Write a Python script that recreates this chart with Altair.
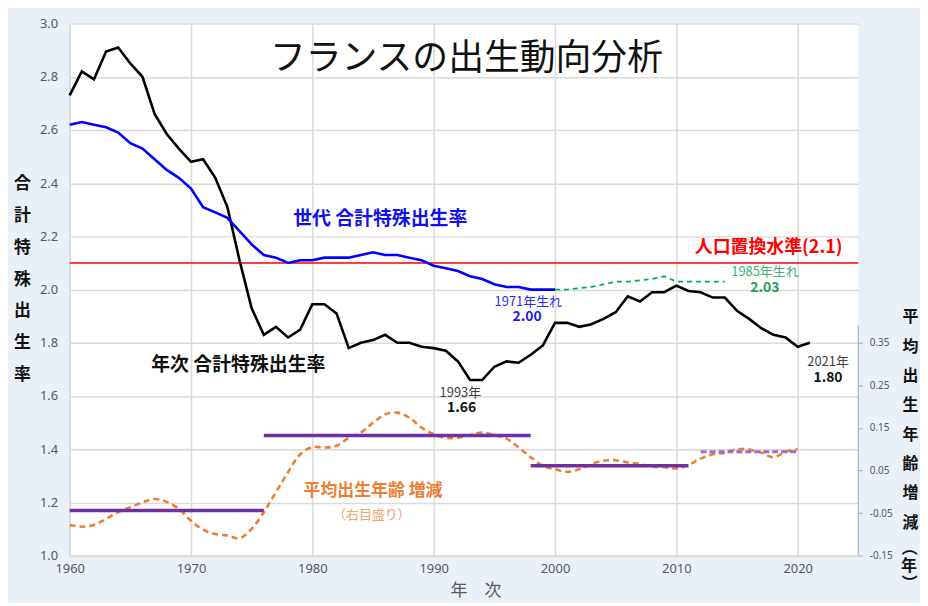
import altair as alt
import pandas as pd

# ---------------- data ----------------
years_period = list(range(1960, 2022))
tfr_period = [2.73, 2.82, 2.79, 2.895, 2.91, 2.85, 2.80, 2.66, 2.585, 2.53,
              2.48, 2.49, 2.42, 2.31, 2.11, 1.93, 1.83, 1.86, 1.82, 1.85,
              1.945, 1.945, 1.91, 1.78, 1.80, 1.81, 1.83, 1.80, 1.80, 1.785,
              1.78, 1.77, 1.73, 1.66, 1.66, 1.71, 1.73, 1.725, 1.755, 1.79,
              1.875, 1.875, 1.86, 1.87, 1.89, 1.915, 1.975, 1.955, 1.99, 1.99,
              2.015, 1.995, 1.99, 1.97, 1.97, 1.92, 1.89, 1.855, 1.83, 1.82,
              1.785, 1.80]

years_cohort = list(range(1960, 2001))
tfr_cohort = [2.62, 2.63, 2.62, 2.61, 2.59, 2.55, 2.53, 2.49, 2.45, 2.42,
              2.38, 2.31, 2.29, 2.27, 2.22, 2.17, 2.13, 2.12, 2.10, 2.11,
              2.11, 2.12, 2.12, 2.12, 2.13, 2.14, 2.13, 2.13, 2.12, 2.11,
              2.09, 2.08, 2.07, 2.05, 2.04, 2.02, 2.01, 2.01, 2.00, 2.00,
              2.00]

years_cohort_proj = list(range(2000, 2015))
tfr_cohort_proj = [2.00, 2.00, 2.005, 2.01, 2.02, 2.03, 2.03, 2.035, 2.04, 2.05,
                   2.03, 2.03, 2.03, 2.03, 2.03]

years_age = list(range(1960, 2021))
age_change = [-0.078, -0.082, -0.078, -0.064, -0.048, -0.036, -0.025, -0.017, -0.024, -0.040,
              -0.068, -0.089, -0.099, -0.103, -0.109, -0.087, -0.048, -0.001, 0.046, 0.088,
              0.105, 0.104, 0.108, 0.127, 0.139, 0.162, 0.182, 0.186, 0.174, 0.151,
              0.135, 0.127, 0.127, 0.133, 0.139, 0.133, 0.125, 0.104, 0.081, 0.061,
              0.053, 0.047, 0.053, 0.065, 0.073, 0.074, 0.069, 0.065, 0.059, 0.058,
              0.055, 0.063, 0.078, 0.088, 0.092, 0.100, 0.099, 0.092, 0.081, 0.094,
              0.100]

period_start = [1960, 1976, 1998]
period_end = [1976, 1998, 2011]
period_mean = [-0.044, 0.132, 0.061]

recent_start = [2012]
recent_end = [2020]
recent_mean = [0.094]

replacement_level = [2.1]

left_ticks = [1.0, 1.2, 1.4, 1.6, 1.8, 2.0, 2.2, 2.4, 2.6, 2.8, 3.0]
right_ticks = [-0.15, -0.05, 0.05, 0.15, 0.25, 0.35]
right_axis_span = [-0.15, 0.39]
x_ticks = [1960, 1970, 1980, 1990, 2000, 2010, 2020]

# annotations (text, year, value, colour, size, bold)
annotations = [
    ("フランスの出生動向分析", 1992.7, 2.867, "#111111", 36, False),
    ("世代 合計特殊出生率", 1985.6, 2.264, "#1010F0", 19, True),
    ("年次 合計特殊出生率", 1973.9, 1.718, "#111111", 19, True),
    ("1971年生れ", 1997.8, 1.953, "#2A2AF0", 13, False),
    ("2.00", 1997.7, 1.895, "#1A1AF0", 14, True),
    ("1985年生れ", 2017.3, 2.065, "#3CB371", 13, False),
    ("2.03", 2017.3, 2.007, "#22A050", 14, True),
    ("1993年", 1992.2, 1.613, "#404040", 13, False),
    ("1.66", 1992.3, 1.553, "#111111", 14, True),
    ("2021年", 2022.5, 1.729, "#404040", 13, False),
    ("1.80", 2022.5, 1.669, "#111111", 14, True),
    ("平均出生年齢 増減", 1985.0, 1.241, "#ED7D31", 17, True),
    ("（右目盛り）", 1984.9, 1.153, "#F2A36E", 13, False),
]
right_note = [("人口置換水準(2.1)", 2023.7, 2.157, "#FF0000", 18, True)]

# ---------------- tables ----------------
df_period = pd.DataFrame({"year": years_period, "value": tfr_period})
df_cohort = pd.DataFrame({"year": years_cohort, "value": tfr_cohort})
df_proj = pd.DataFrame({"year": years_cohort_proj, "value": tfr_cohort_proj})
df_repl = pd.DataFrame({"value": replacement_level})
df_age = pd.DataFrame({"year": years_age, "value": age_change})
df_seg = pd.DataFrame({"year": period_start, "end": period_end, "value": period_mean})
df_recent = pd.DataFrame({"year": recent_start, "end": recent_end, "value": recent_mean})
df_axis = pd.DataFrame({"lo": [right_axis_span[0]], "hi": [right_axis_span[1]], "year": [2025]})
cols = ["text", "year", "value", "color", "size", "bold"]
df_ann = pd.DataFrame(annotations, columns=cols)
df_note = pd.DataFrame(right_note, columns=cols)

# ---------------- scales / axes ----------------
JP = "Noto Sans CJK JP"
GRID = "#DADADA"
LABEL = "#595959"

x_scale = alt.Scale(domain=[1960, 2025], nice=False, zero=False)
x_axis = alt.Axis(values=x_ticks, format="d", labelFontSize=13, labelColor=LABEL,
                  labelFont="Noto Sans", ticks=False, labelPadding=7, labelFlush=False,
                  grid=True, gridColor=GRID, gridWidth=1.5, domainColor=GRID, domainWidth=1.5,
                  title="年　次", titleFont=JP, titleFontSize=17, titleFontWeight="normal",
                  titleColor=LABEL, titleX=408, titleY=27, titleBaseline="top")

yl_scale = alt.Scale(domain=[1.0, 3.0], nice=False, zero=False)
yl_axis = alt.Axis(values=left_ticks, format=".1f", labelFontSize=13, labelColor=LABEL,
                   labelFont="Noto Sans", ticks=False, labelPadding=12, labelFlush=False,
                   grid=True, gridColor=GRID, gridWidth=1.5, domainColor=GRID, domainWidth=1.5,
                   title=list("合計特殊出生率"), titleAngle=0, titleX=-48, titleY=161,
                   titleAlign="center", titleBaseline="middle", titleLineHeight=32,
                   titleFont=JP, titleFontSize=17, titleFontWeight="bold", titleColor="#111111")

yr_scale = alt.Scale(domain=[-0.15, 1.1], nice=False, zero=False)
yr_axis = alt.Axis(orient="right", values=right_ticks,
                   labelExpr="replace(format(datum.value, '.2f'), '\u2212', '-')",
                   labelFontSize=10, labelColor=LABEL, labelFont="Noto Sans", labelFlush=False,
                   grid=False, domain=False, ticks=True, tickSize=4, tickColor="#A6A6A6",
                   labelPadding=7,
                   title=list("平均出生年齢増減"), titleAngle=0, titleX=52, titleY=295,
                   titleAlign="center", titleBaseline="middle", titleLineHeight=29.5,
                   titleFont=JP, titleFontSize=16, titleFontWeight="bold", titleColor="#111111")


def X(field="year"):
    return alt.X(f"{field}:Q", scale=x_scale, axis=x_axis)


def YL(field="value"):
    return alt.Y(f"{field}:Q", scale=yl_scale, axis=yl_axis)


def YR(field="value"):
    return alt.Y(f"{field}:Q", scale=yr_scale, axis=yr_axis)


# ---------------- left layers ----------------
repl = alt.Chart(df_repl).mark_rule(color="#FF0000", strokeWidth=1.3).encode(y=YL())
black = alt.Chart(df_period).mark_line(color="#000000", strokeWidth=2.6).encode(x=X(), y=YL())
blue = alt.Chart(df_cohort).mark_line(color="#0000FF", strokeWidth=2.6).encode(x=X(), y=YL())
green = alt.Chart(df_proj).mark_line(color="#00B050", strokeWidth=1.8,
                                     strokeDash=[5, 4]).encode(x=X(), y=YL())

ann_normal = alt.Chart(df_ann).transform_filter("!datum.bold").mark_text(
    font=JP, align="center", baseline="middle", fontWeight="normal").encode(
    x=X(), y=YL(), text="text:N",
    color=alt.Color("color:N", scale=None), size=alt.Size("size:Q", scale=None))
ann_bold = alt.Chart(df_ann).transform_filter("datum.bold").mark_text(
    font=JP, align="center", baseline="middle", fontWeight="bold").encode(
    x=X(), y=YL(), text="text:N",
    color=alt.Color("color:N", scale=None), size=alt.Size("size:Q", scale=None))
note = alt.Chart(df_note).mark_text(font=JP, align="right", baseline="middle",
                                    fontWeight="bold").encode(
    x=X(), y=YL(), text="text:N",
    color=alt.Color("color:N", scale=None), size=alt.Size("size:Q", scale=None))

left = alt.layer(repl, black, blue, green, ann_normal, ann_bold, note)

# ---------------- right layers ----------------
axis_line = alt.Chart(df_axis).mark_rule(color="#A6A6A6", strokeWidth=1).encode(
    x=X(), y=YR("lo"), y2="hi:Q")
orange = alt.Chart(df_age).mark_line(color="#ED7D31", strokeWidth=2.6, strokeDash=[6, 4],
                                    interpolate="catmull-rom").encode(x=X(), y=YR())
seg = alt.Chart(df_seg).mark_rule(color="#7030A0", strokeWidth=3.5).encode(
    x=X(), x2="end:Q", y=YR())
recent = alt.Chart(df_recent).mark_rule(color="#9A6BCB", strokeWidth=3,
                                        strokeDash=[6, 3]).encode(x=X(), x2="end:Q", y=YR())

# remaining part of the right-axis title, written vertically: （年）
paren_style = dict(font=JP, fontSize=16, fontWeight="bold", color="#111111",
                   align="center", baseline="middle")
paren_open = alt.Chart(df_axis).mark_text(angle=90, **paren_style).encode(
    x=alt.value(844), y=alt.value(527), text=alt.value("（"))
paren_year = alt.Chart(df_axis).mark_text(**paren_style).encode(
    x=alt.value(844), y=alt.value(545), text=alt.value("年"))
paren_close = alt.Chart(df_axis).mark_text(angle=90, **paren_style).encode(
    x=alt.value(844), y=alt.value(562), text=alt.value("）"))

right = alt.layer(axis_line, orange, seg, recent, paren_open, paren_year, paren_close)

chart = alt.layer(left, right).resolve_scale(y="independent").properties(
    width=793, height=535,
    autosize=alt.AutoSizeParams(type="none"),
    padding={"left": 62, "top": 14, "right": 62, "bottom": 46},
    background="#E9F0F8",
).configure_view(fill="white", stroke=None)

chart.save("out.html", embed_options={"renderer": "svg", "actions": False})
